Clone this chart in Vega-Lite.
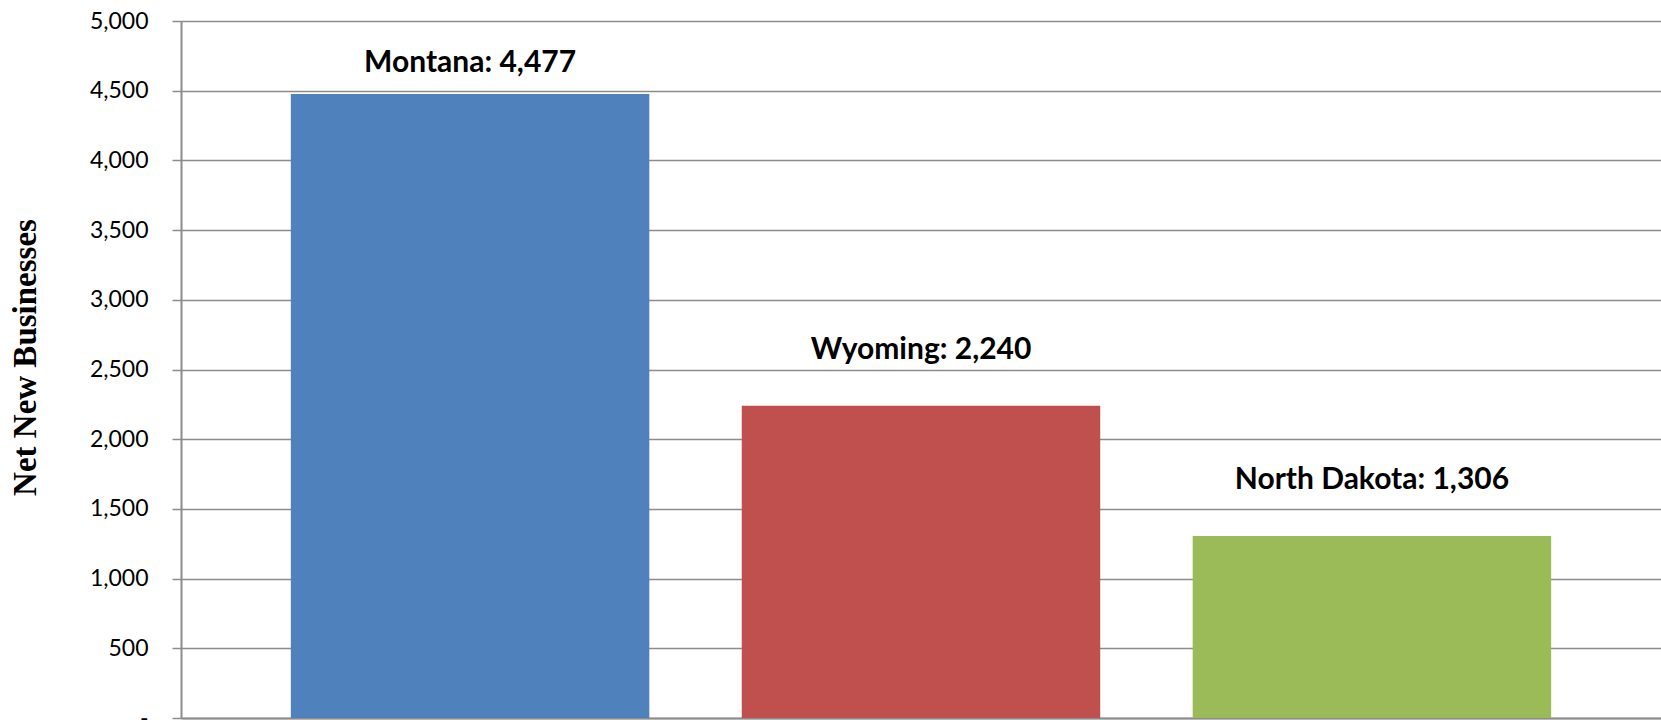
{
  "$schema": "https://vega.github.io/schema/vega-lite/v6.json",
  "width": 1480,
  "height": 697,
  "autosize": {"type": "none"},
  "padding": {"left": 181, "top": 21, "right": 0, "bottom": 2},
  "background": "white",
  "config": {"view": {"stroke": null}},
  "data": {
    "values": [
      {"state": "Montana", "value": 4477, "label": "Montana: 4,477"},
      {"state": "Wyoming", "value": 2240, "label": "Wyoming: 2,240"},
      {"state": "North Dakota", "value": 1306, "label": "North Dakota: 1,306"}
    ]
  },
  "encoding": {
    "x": {
      "field": "state",
      "type": "nominal",
      "sort": null,
      "scale": {"paddingInner": 0.205, "paddingOuter": 0.2436},
      "axis": {"labels": false, "ticks": false, "title": null, "domainColor": "#8c8c8c", "domainWidth": 2}
    },
    "y": {
      "field": "value",
      "type": "quantitative",
      "scale": {"domain": [0, 5000], "nice": false},
      "axis": {
        "values": [0, 500, 1000, 1500, 2000, 2500, 3000, 3500, 4000, 4500, 5000],
        "labelExpr": "datum.value == 0 ? '-' : format(datum.value, ',')",
        "grid": true,
        "gridColor": "#8c8c8c",
        "gridWidth": 1.5,
        "tickSize": 9,
        "tickColor": "#8c8c8c",
        "tickWidth": 1.5,
        "domainColor": "#8c8c8c",
        "domainWidth": 2,
        "labelFont": "Lato",
        "labelFontSize": 23,
        "labelColor": "#000000",
        "labelPadding": 24,
        "title": "Net New Businesses",
        "titleFont": "Liberation Serif",
        "titleFontWeight": "bold",
        "titleFontSize": 33,
        "titleColor": "#000000",
        "titleAngle": -90,
        "titleAlign": "center",
        "titleBaseline": "alphabetic",
        "titleX": -146,
        "titleY": 336
      }
    }
  },
  "layer": [
    {
      "mark": {"type": "bar"},
      "encoding": {
        "color": {
          "field": "state",
          "type": "nominal",
          "scale": {"domain": ["Montana", "Wyoming", "North Dakota"], "range": ["#4F81BD", "#C0504D", "#9BBB59"]},
          "legend": null
        }
      }
    },
    {
      "transform": [{"filter": "datum.state == 'Montana'"}],
      "mark": {"type": "text", "font": "Lato", "fontWeight": "bold", "fontSize": 30, "align": "center", "baseline": "alphabetic", "dy": -22, "color": "#000000"},
      "encoding": {"text": {"field": "label"}}
    },
    {
      "transform": [{"filter": "datum.state != 'Montana'"}],
      "mark": {"type": "text", "font": "Lato", "fontWeight": "bold", "fontSize": 30, "align": "center", "baseline": "alphabetic", "dy": -47, "color": "#000000"},
      "encoding": {"text": {"field": "label"}}
    }
  ]
}
